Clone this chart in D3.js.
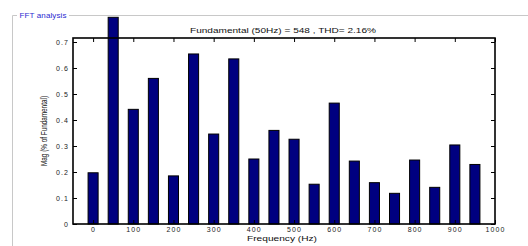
<!DOCTYPE html>
<html>
<head>
<meta charset="utf-8">
<script src="https://cdn.jsdelivr.net/npm/d3@7"></script>
<style>
  body { margin: 0; background: #fff; }
  svg { display: block; font-family: "Liberation Sans", Arial, sans-serif; }
</style>
</head>
<body>
<svg id="chart" width="528" height="246"></svg>
<script>
// Harmonic frequencies (Hz) and magnitudes (% of fundamental)
const freqs = [0, 50, 100, 150, 200, 250, 300, 350, 400, 450, 500, 550, 600, 650, 700, 750, 800, 850, 900, 950];
const mags = [0.197, 0.795, 0.441, 0.560, 0.185, 0.654, 0.346, 0.635, 0.250, 0.360, 0.326, 0.153, 0.465, 0.242, 0.159, 0.118, 0.246, 0.141, 0.304, 0.229];
const xTicks = [0, 100, 200, 300, 400, 500, 600, 700, 800, 900, 1000];
const yTicks = [0, 0.1, 0.2, 0.3, 0.4, 0.5, 0.6, 0.7];
const title = "Fundamental (50Hz) = 548 , THD= 2.16%";

const svg = d3.select("#chart");

// Group box frame with its label
svg.append("path")
  .attr("d", "M12.5,246 V15.5 H528")
  .attr("fill", "none")
  .attr("stroke", "#c8c8c8")
  .attr("stroke-width", 1);
svg.append("rect")
  .attr("x", 17).attr("y", 9).attr("width", 52).attr("height", 12)
  .attr("fill", "#fff");
svg.append("text")
  .attr("x", 19.5).attr("y", 17.5)
  .attr("font-size", 8)
  .attr("textLength", 47)
  .attr("fill", "#2a2ad0")
  .text("FFT analysis");

// Plot area
const plotL = 73, plotR = 495, plotT = 38, plotB = 224;

const x = d3.scaleLinear().domain([-50, 1000]).range([plotL, plotR]);
const y = d3.scaleLinear().domain([0, 0.7154]).range([plotB, plotT]);

const barW = x(25) - x(0);

// Bars
svg.append("g")
  .selectAll("rect")
  .data(freqs.map((f, i) => ({ f, v: mags[i] })))
  .join("rect")
  .attr("x", d => x(d.f) - barW / 2)
  .attr("y", d => y(d.v))
  .attr("width", barW)
  .attr("height", d => y(0) - y(d.v))
  .attr("fill", "#000080")
  .attr("stroke", "#000")
  .attr("stroke-width", 1);

// Axes, ticks pointing inward like MATLAB
const tickLen = 4;
const styleLabels = g => g.selectAll("text")
  .attr("font-size", 7)
  .attr("letter-spacing", 1.1)
  .attr("fill", "#222")
  .attr("font-family", "Liberation Sans, Arial");

svg.append("g")
  .attr("transform", `translate(0,${plotB})`)
  .call(d3.axisBottom(x).tickValues(xTicks).tickSize(-tickLen).tickPadding(3.5).tickFormat(d3.format("d")))
  .call(g => g.select(".domain").remove())
  .call(styleLabels);

svg.append("g")
  .attr("transform", `translate(0,${plotT})`)
  .call(d3.axisTop(x).tickValues(xTicks).tickSize(-tickLen).tickFormat(""))
  .call(g => g.select(".domain").remove());

svg.append("g")
  .attr("transform", `translate(${plotL},0)`)
  .call(d3.axisLeft(y).tickValues(yTicks).tickSize(-tickLen).tickPadding(4).tickFormat(d => d === 0 ? "0" : d3.format(".1f")(d)))
  .call(g => g.select(".domain").remove())
  .call(styleLabels);

svg.append("g")
  .attr("transform", `translate(${plotR},0)`)
  .call(d3.axisRight(y).tickValues(yTicks).tickSize(-tickLen).tickFormat(""))
  .call(g => g.select(".domain").remove());

// Box
svg.append("rect")
  .attr("x", plotL).attr("y", plotT)
  .attr("width", plotR - plotL).attr("height", plotB - plotT)
  .attr("fill", "none")
  .attr("stroke", "#000")
  .attr("stroke-width", 1.6);

// Title and labels
svg.append("text")
  .attr("x", 190).attr("y", 33)
  .attr("font-size", 7.5)
  .attr("textLength", 186)
  .attr("lengthAdjust", "spacingAndGlyphs")
  .attr("fill", "#111")
  .text(title);

svg.append("text")
  .attr("x", 247).attr("y", 241)
  .attr("font-size", 7.5)
  .attr("textLength", 70)
  .attr("lengthAdjust", "spacingAndGlyphs")
  .attr("fill", "#111")
  .text("Frequency (Hz)");

svg.append("text")
  .attr("transform", `translate(47,${(plotT + plotB) / 2}) rotate(-90)`)
  .attr("x", -35)
  .attr("font-size", 9)
  .attr("textLength", 70)
  .attr("lengthAdjust", "spacingAndGlyphs")
  .attr("fill", "#111")
  .text("Mag (% of Fundamental)");
</script>
</body>
</html>
